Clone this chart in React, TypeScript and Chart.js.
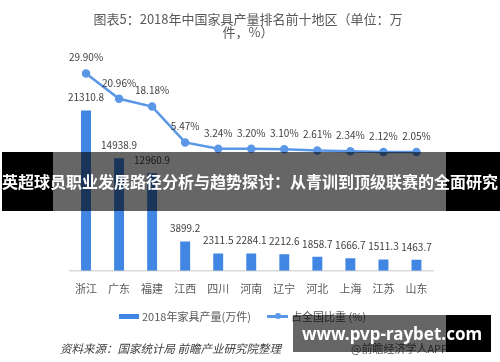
import React, { useEffect, useRef } from "react";
import { Chart, registerables } from "chart.js";

Chart.register(...registerables);

const categories = ["浙江", "广东", "福建", "江西", "四川", "河南", "辽宁", "河北", "上海", "江苏", "山东"];
const production = [21310.8, 14938.9, 12960.9, 3899.2, 2311.5, 2284.1, 2212.6, 1858.7, 1666.7, 1511.3, 1463.7];
const share = [29.9, 20.96, 18.18, 5.47, 3.24, 3.2, 3.1, 2.61, 2.34, 2.12, 2.05];

const titleLines = ["图表5：2018年中国家具产量排名前十地区（单位：万", "件，%）"];
const barLabel = "2018年家具产量(万件)";
const lineLabel = "占全国比重 (%)";
const sourceText = "资料来源：国家统计局 前瞻产业研究院整理";
const bannerText = "英超球员职业发展路径分析与趋势探讨：从青训到顶级联赛的全面研究";
const siteText = "www.pvp-raybet.com";
const appText = "@前瞻经济学人APP";

const FONT = '"Noto Sans CJK SC", "Noto Sans", sans-serif';
const BAR_COLOR = "#4186E2";
const LINE_COLOR = "#5B97E7";

const labelPlugin = {
  id: "valueLabels",
  afterDatasetsDraw(chart: any) {
    const ctx = chart.ctx;
    ctx.save();
    ctx.font = `10px ${FONT}`;
    ctx.fillStyle = "#404040";
    ctx.textAlign = "center";
    ctx.textBaseline = "middle";
    const barMeta = chart.getDatasetMeta(0);
    barMeta.data.forEach((el: any, i: number) => {
      ctx.fillText(production[i].toFixed(1), el.x, el.y - 13);
    });
    const lineMeta = chart.getDatasetMeta(1);
    lineMeta.data.forEach((el: any, i: number) => {
      ctx.fillText(share[i].toFixed(2) + "%", el.x, el.y - 16);
    });
    ctx.restore();
  },
};

export default function App() {
  const ref = useRef<HTMLCanvasElement | null>(null);
  useEffect(() => {
    if (!ref.current) return;
    const chart = new Chart(ref.current, {
      type: "bar",
      data: {
        labels: categories,
        datasets: [
          {
            type: "bar",
            label: barLabel,
            data: production,
            backgroundColor: BAR_COLOR,
            yAxisID: "y",
            barPercentage: 0.3,
            categoryPercentage: 1,
            order: 2,
          },
          {
            type: "line",
            label: lineLabel,
            data: share,
            borderColor: LINE_COLOR,
            backgroundColor: LINE_COLOR,
            borderWidth: 2.5,
            pointRadius: 3,
            pointBackgroundColor: LINE_COLOR,
            pointBorderColor: LINE_COLOR,
            yAxisID: "y1",
            tension: 0,
            order: 1,
          } as any,
        ],
      },
      options: {
        responsive: false,
        animation: false,
        layout: { padding: { left: 69.5, right: 67, top: 45, bottom: 56 } },
        plugins: { legend: { display: false }, title: { display: false }, tooltip: { enabled: false } },
        scales: {
          x: {
            grid: { display: false, drawTicks: false },
            border: { color: "#d9d9d9", width: 1.5 },
            ticks: { font: { size: 11, family: FONT }, color: "#595959", padding: 11 },
          },
          y: { display: false, min: 0, max: 30000 },
          y1: { display: false, min: -40, max: 40 },
        },
      },
      plugins: [labelPlugin],
    });
    return () => chart.destroy();
  }, []);

  const abs = (s: React.CSSProperties): React.CSSProperties => ({ position: "absolute", ...s });

  return (
    <div style={{ position: "fixed", left: 0, top: 0, width: 500, height: 362, background: "#fff", overflow: "hidden", fontFamily: FONT }}>
      <canvas ref={ref} width={500} height={362} style={abs({ left: 0, top: 0, width: 500, height: 362 })} />
      <div style={abs({ left: 0, top: 12, width: 496, textAlign: "center", fontSize: 13, lineHeight: "13px", color: "#595959" })}>
        {titleLines[0]}
        <br />
        {titleLines[1]}
      </div>
      {/* legend */}
      <div style={abs({ left: 119, top: 313.5, width: 20, height: 5, background: BAR_COLOR })} />
      <div style={abs({ left: 142, top: 308, fontSize: 11, lineHeight: "16px", color: "#595959", whiteSpace: "nowrap" })}>{barLabel}</div>
      <div style={abs({ left: 267, top: 315, width: 21, height: 2.5, background: LINE_COLOR })} />
      <div style={abs({ left: 274.5, top: 313, width: 6, height: 6, borderRadius: 3, background: LINE_COLOR })} />
      <div style={abs({ left: 291, top: 308, fontSize: 11, lineHeight: "16px", color: "#595959", whiteSpace: "nowrap" })}>{lineLabel}</div>
      {/* source */}
      <div style={abs({ left: 60, top: 340, fontSize: 11.5, lineHeight: "16px", color: "#404040", fontStyle: "italic", whiteSpace: "nowrap" })}>{sourceText}</div>
      <div style={abs({ left: 351, top: 340, fontSize: 11, lineHeight: "16px", color: "#595959", whiteSpace: "nowrap" })}>{appText}</div>
      {/* banner */}
      <div style={abs({ left: 2, top: 152, width: 51, height: 59, background: "#000" })} />
      <div style={abs({ left: 53, top: 152, width: 393, height: 59, background: "rgba(0,0,0,0.6)" })} />
      <div style={abs({ left: 446, top: 152, width: 54, height: 59, background: "#000" })} />
      <div style={abs({ left: 0, top: 152, width: 500, height: 59, lineHeight: "59px", textAlign: "center", color: "#fff", fontSize: 16, fontWeight: 700, whiteSpace: "nowrap" })}>{bannerText}</div>
      {/* site watermark */}
      <div style={abs({ left: 293, top: 315, width: 153, height: 37, background: "rgba(0,0,0,0.6)" })} />
      <div style={abs({ left: 446, top: 315, width: 45, height: 37, background: "#000" })} />
      <div style={abs({ left: 293, top: 315, width: 198, height: 37, lineHeight: "37px", textAlign: "center", color: "#fff", fontSize: 17, fontWeight: 700, fontFamily: '"Noto Sans", sans-serif', whiteSpace: "nowrap" })}>{siteText}</div>
    </div>
  );
}
